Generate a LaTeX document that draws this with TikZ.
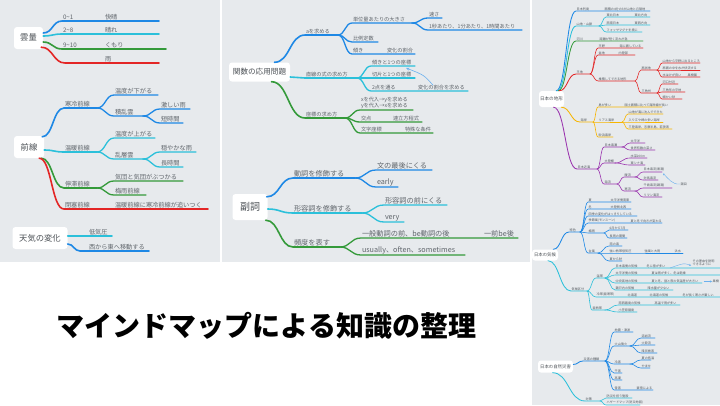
\documentclass[tikz,border=0pt]{standalone}
\usepackage{fontspec}
\setmainfont{Noto Sans CJK JP}
\usetikzlibrary{calc,arrows.meta}
\definecolor{bg}{HTML}{E7EAED}
\definecolor{mblue}{HTML}{1E88E5}
\definecolor{mcyan}{HTML}{2BC0DA}
\definecolor{mgreen}{HTML}{349A3A}
\definecolor{mred}{HTML}{E32626}
\definecolor{morange}{HTML}{F7B500}
\definecolor{mpurple}{HTML}{9A32AE}
\definecolor{txt}{HTML}{5F656B}
\definecolor{rtxt}{HTML}{50565C}
\definecolor{arr}{HTML}{6AB0EE}
% #1 label xshift, #2 style, #3 start, #4 knee, #5 end, #6 name, #7 text
\newcommand\mmb[7][0]{%
  \coordinate (#6k) at #4;
  \coordinate (#6) at #5;
  \coordinate (#6m) at ($(#3)!0.5!(#6k)$);
  \draw[#2] (#3) .. controls (#6m |- #3) and (#6m |- #6k) .. (#6k) -- (#6);
  \node[lbl,xshift=#1pt] (#6t) at (#6k) {#7};}
\begin{document}
\begin{tikzpicture}[x=1pt,y=-1pt,
  root/.style={fill=white,rounded corners=3pt,inner sep=0pt,text=txt!80!black,align=center},
  lbl/.style={inner sep=0.8pt,text=txt,anchor=south west,align=left},
  b1/.style={line width=1.6pt,line cap=round},
  b2/.style={line width=1.3pt,line cap=round},
  r1/.style={line width=0.85pt,line cap=round},
  r2/.style={line width=0.6pt,line cap=round},
  rel/.style={draw=arr,line width=0.6pt,-{Stealth[length=3.5pt,width=3pt]}},
  rrel/.style={draw=arr,line width=0.4pt,-{Stealth[length=2pt,width=2pt]}}]
\useasboundingbox (0,0) rectangle (720,405);
\fill[white] (0,0) rectangle (720,405);
\fill[bg] (0,0) rectangle (220,262);
\fill[bg] (222,0) rectangle (530,262);
\fill[bg] (532,0) rectangle (720,405);

% ===== LEFT PANEL =====
\begin{scope}[lbl/.append style={font=\fontsize{6.2}{7.4}\selectfont}]
\node[root,minimum width=29,minimum height=22,font=\fontsize{8.3}{10}\selectfont] (unryo) at (28.5,38) {雲量};
\coordinate (u1) at ($(unryo.east)+(0,-5)$);
\coordinate (u2) at ($(unryo.east)+(0,-2)$);
\coordinate (u3) at ($(unryo.east)+(0,4)$);
\coordinate (u4) at ($(unryo.south east)+(-2,-2)$);
\mmb{b1,mblue}{u1}{(62,21)}{(159,21)}{ua}{0\textasciitilde1}
\node[lbl] (uau) at (104,21) {快晴};
\mmb{b1,mcyan}{u2}{(62,34)}{(159,34)}{ub}{2\textasciitilde8}
\node[lbl] (ubu) at (104,34) {晴れ};
\mmb{b1,mgreen}{u3}{(62,49)}{(166,49)}{uc}{9\textasciitilde10}
\node[lbl] (ucu) at (104,49) {くもり};
\mmb{b1,mred}{u4}{(65,63)}{(159,63)}{ud}{}
\node[lbl] (udu) at (104,63) {雨};

\node[root,minimum width=30,minimum height=22,font=\fontsize{8.3}{10}\selectfont] (zensen) at (29,147) {前線};
\coordinate (z1) at ($(zensen.north east)+(-2,1)$);
\coordinate (z2) at ($(zensen.east)+(0,3)$);
\coordinate (z3) at ($(zensen.south east)+(-3,0)$);
\coordinate (z4) at ($(zensen.south east)+(-5,0)$);
\mmb{b1,mblue}{z1}{(64,108)}{(97,108)}{za}{寒冷前線}
\mmb{b2,mblue}{za}{(114,95)}{(158,95)}{zaa}{温度が下がる}
\mmb{b2,mblue}{za}{(114,116)}{(143,116)}{zab}{積乱雲}
\mmb{b2,mblue}{zab}{(160,109)}{(190,109)}{zaba}{激しい雨}
\mmb{b2,mblue}{zab}{(160,123)}{(183,123)}{zabb}{短時間}
\mmb{b1,mcyan}{z2}{(64,152)}{(97,152)}{zb}{温暖前線}
\mmb{b2,mcyan}{zb}{(114,138)}{(155,138)}{zba}{温度が上がる}
\mmb{b2,mcyan}{zb}{(114,159)}{(143,159)}{zbb}{乱層雲}
\mmb{b2,mcyan}{zbb}{(160,152)}{(196,152)}{zbba}{穏やかな雨}
\mmb{b2,mcyan}{zbb}{(160,167)}{(183,167)}{zbbb}{長時間}
\mmb{b1,mgreen}{z3}{(64,188)}{(97,188)}{zc}{停滞前線}
\mmb{b2,mgreen}{zc}{(114,181)}{(183,181)}{zca}{気団と気団がぶつかる}
\mmb{b2,mgreen}{zc}{(114,195)}{(146,195)}{zcb}{梅雨前線}
\mmb{b1,mred}{z4}{(64,209)}{(208,209)}{zd}{閉塞前線}
\node[lbl] (zdu) at (114,209) {温暖前線に寒冷前線が追いつく};

\node[root,minimum width=55,minimum height=22,font=\fontsize{8.3}{10}\selectfont] (tenki) at (40,238) {天気の変化};
\coordinate (t1) at ($(tenki.east)+(0,-2)$);
\coordinate (t2) at ($(tenki.east)+(0,6)$);
\mmb[8]{b1,mcyan}{t1}{(80,236)}{(112,236)}{ta}{低気圧}
\mmb[8]{b1,mblue}{t2}{(80,251)}{(149,251)}{tb}{西から東へ移動する}
\end{scope}

% ===== MIDDLE: kansu =====
\begin{scope}[lbl/.append style={font=\fontsize{5.2}{6.6}\selectfont}]
\node[root,minimum width=61,minimum height=19,font=\fontsize{7.6}{9}\selectfont] (kansu) at (259.5,72) {関数の応用問題};
\coordinate (k1) at ($(kansu.north)+(15,0)$);
\coordinate (k2) at ($(kansu.east)+(0,5)$);
\coordinate (k3) at ($(kansu.south)+(12,0)$);
\mmb{b1,mblue}{k1}{(305,35)}{(338,35)}{ka}{aを求める}
\mmb{b2,mblue}{ka}{(352,23)}{(412,23)}{kaa}{単位量あたりの大きさ}
\mmb{b2,mblue}{kaa}{(428,18)}{(442,18)}{kaaa}{速さ}
\mmb{b2,mblue}{kaa}{(428,30)}{(522,30)}{kaab}{1秒あたり、1分あたり、1時間あたり}
\mmb{b2,mblue}{ka}{(352,42)}{(378,42)}{kab}{比例定数}
\mmb{b2,mblue}{ka}{(352,54)}{(415,54)}{kac}{傾き}
\node[lbl] (kacu) at (386,54) {変化の割合};
\mmb{b1,mcyan}{k2}{(305,78)}{(357,78)}{kb}{直線の式の求め方}
\mmb{b2,mcyan}{kb}{(371,66)}{(415,66)}{kba}{傾きと1つの座標}
\mmb{b2,mcyan}{kb}{(371,78)}{(415,78)}{kbb}{切片と1つの座標}
\mmb{b2,mcyan}{kb}{(371,91)}{(468,91)}{kbc}{2点を通る}
\node[lbl] (kbcu) at (417,91) {変化の割合を求める};
\draw[rel] ($(kbcu.north west)+(16,1)$) .. controls (424,75) .. ($(kba)+(-9,2)$);
\mmb{b1,mgreen}{k3}{(305,118)}{(345,118)}{kc}{座標の求め方}
\mmb{b2,mgreen}{kc}{(360,110)}{(413,110)}{kca}{xを代入→yを求める\\yを代入→xを求める}
\mmb{b2,mgreen}{kc}{(360,122)}{(422,122)}{kcb}{交点}
\node[lbl] (kcbu) at (392,122) {連立方程式};
\mmb{b2,mgreen}{kc}{(360,133)}{(433,133)}{kcc}{文字座標}
\node[lbl] (kccu) at (404,133) {特殊な条件};
\end{scope}

% ===== MIDDLE: fukushi =====
\begin{scope}[lbl/.append style={font=\fontsize{7.2}{8.6}\selectfont}]
\node[root,minimum width=35,minimum height=26,font=\fontsize{10}{12}\selectfont] (fukushi) at (250,207) {副詞};
\coordinate (f1) at ($(fukushi.north east)+(-1,3)$);
\coordinate (f2) at ($(fukushi.east)+(0,2)$);
\coordinate (f3) at ($(fukushi.south east)+(-2,0)$);
\mmb{b1,mblue}{f1}{(293,178)}{(355,178)}{fa}{動詞を修飾する}
\mmb{b2,mblue}{fa}{(376,170)}{(432,170)}{faa}{文の最後にくる}
\mmb{b2,mblue}{fa}{(376,187)}{(398,187)}{fab}{early}
\mmb{b1,mcyan}{f2}{(293,213)}{(362,213)}{fb}{形容詞を修飾する}
\mmb{b2,mcyan}{fb}{(384,205)}{(447,205)}{fba}{形容詞の前にくる}
\mmb{b2,mcyan}{fb}{(384,222)}{(404,222)}{fbb}{very}
\mmb{b1,mgreen}{f3}{(293,247)}{(340,247)}{fc}{頻度を表す}
\mmb{b2,mgreen}{fc}{(361,238)}{(518,238)}{fca}{一般動詞の前、be動詞の後}
\node[lbl] (fcau) at (483,238) {一前be後};
\mmb{b2,mgreen}{fc}{(361,255)}{(465,255)}{fcb}{usually、often、sometimes}
\end{scope}

% ===== TITLE =====
\node[font=\fontsize{28}{32}\selectfont\bfseries,text=black,inner sep=0pt] (title) at (266.5,326) {マインドマップによる知識の整理};

% ===== RIGHT COLUMN =====
\begin{scope}[lbl/.append style={font=\fontsize{3.1}{3.6}\selectfont,text=rtxt,inner sep=0.5pt}]
\clip (532,0) rectangle (720,405);
\node[root,minimum width=25,minimum height=16,font=\fontsize{4.6}{5}\selectfont] (chikei) at (551.5,99) {日本の地形};
\coordinate (c1) at ($(chikei.north east)+(-8,0)$);
\coordinate (c2) at ($(chikei.north east)+(-7,0)$);
\coordinate (c3) at ($(chikei.north east)+(-6,0)$);
\coordinate (c4) at ($(chikei.north east)+(-5,0)$);
\coordinate (c5) at ($(chikei.south east)+(-3,0)$);
\coordinate (c6) at ($(chikei.south)+(2,0)$);
\mmb{r1,mblue}{c1}{(576,11)}{(650,11)}{ca}{日本列島}
\node[lbl] (cau) at (604,11) {面積の4分の3が山地と丘陵地};
\mmb{r1,mcyan}{c2}{(576,26)}{(599,26)}{cb}{山地・山脈}
\mmb{r2,mcyan}{cb}{(606,17)}{(650,17)}{cba}{東北日本}
\node[lbl] (cbau) at (634,17) {東北方向};
\mmb{r2,mcyan}{cb}{(606,25)}{(650,25)}{cbb}{西南日本}
\node[lbl] (cbbu) at (634,25) {東西方向};
\mmb{r2,mcyan}{cb}{(606,32)}{(642,32)}{cbc}{フォッサマグナを境に}
\mmb{r1,mgreen}{c3}{(576,41)}{(643,41)}{cc}{河川}
\node[lbl] (ccu) at (599,41) {距離が短く流れが急};
\mmb{r1,mred}{c4}{(576,74)}{(590,74)}{cd}{平地}
\mmb{r2,mred}{cd}{(598,48)}{(643,48)}{cda}{平野}
\node[lbl] (cdau) at (619,48) {海に面している};
\mmb{r2,mred}{cd}{(598,55)}{(635,55)}{cdb}{盆地}
\node[lbl] (cdbu) at (618,55) {内陸部};
\mmb{r2,mred}{cd}{(598,81)}{(635,81)}{cdc}{堆積してできる地形}
\mmb{r2,mred}{cdc}{(641,70)}{(657,70)}{cdca}{扇状地}
\mmb{r2,mred}{cdca}{(662,63)}{(700,63)}{cdcaa}{山地から平野に出るところ}
\mmb{r2,mred}{cdca}{(662,70)}{(700,70)}{cdcab}{扇面の中を水が伏流する}
\mmb{r2,mred}{cdca}{(662,77)}{(700,77)}{cdcac}{水はけが良い}
\node[lbl] (cdcacu) at (687,77) {果樹園};
\mmb{r2,mred}{cdc}{(641,93)}{(657,93)}{cdcb}{三角州}
\mmb{r2,mred}{cdcb}{(662,84)}{(678,84)}{cdcba}{河口付近}
\mmb{r2,mred}{cdcb}{(662,92)}{(685,92)}{cdcbb}{三角形の平地}
\mmb{r2,mred}{cdcb}{(662,99)}{(682,99)}{cdcbc}{細かい砂}
\mmb{r1,morange}{c5}{(580,122)}{(593,122)}{ce}{海岸}
\mmb{r2,morange}{ce}{(598,107)}{(662,107)}{cea}{島が多い}
\node[lbl] (ceau) at (624,107) {国土面積に比べて海岸線が長い};
\mmb{r2,morange}{ce}{(598,122)}{(622,122)}{ceb}{リアス海岸}
\mmb{r2,morange}{ceb}{(628,114)}{(663,114)}{ceba}{山地が海に沈んでできた}
\mmb{r2,morange}{ceb}{(628,122)}{(663,122)}{cebb}{入り江や岬の多い海岸}
\mmb{r2,morange}{ceb}{(628,129)}{(672,129)}{cebc}{三陸海岸、志摩半島、若狭湾}
\mmb{r2,morange}{ce}{(598,137)}{(613,137)}{cec}{砂浜海岸}
\mmb{r1,mpurple}{c6}{(577,169)}{(597,169)}{cf}{日本近海}
\mmb{r2,mpurple}{cf}{(604,147)}{(622,147)}{cfa}{日本海溝}
\mmb{r2,mpurple}{cfa}{(630,143)}{(645,143)}{cfaa}{太平洋}
\mmb{r2,mpurple}{cfa}{(630,150)}{(655,150)}{cfab}{世界有数の深さ}
\mmb{r2,mpurple}{cf}{(604,163)}{(615,163)}{cfb}{大陸棚}
\mmb{r2,mpurple}{cfb}{(630,158)}{(647,158)}{cfba}{水深200m}
\mmb{r2,mpurple}{cfb}{(630,165)}{(645,165)}{cfbb}{東シナ海}
\mmb{r2,mpurple}{cf}{(604,184)}{(617,184)}{cfc}{海流}
\mmb{r2,mpurple}{cfc}{(624,177)}{(635,177)}{cfca}{暖流}
\mmb{r2,mpurple}{cfca}{(643,172)}{(662,172)}{cfcaa}{日本海流(黒潮)}
\mmb{r2,mpurple}{cfca}{(643,180)}{(658,180)}{cfcab}{対馬海流}
\mmb{r2,mpurple}{cfc}{(624,191)}{(635,191)}{cfcb}{寒流}
\mmb{r2,mpurple}{cfcb}{(643,188)}{(672,188)}{cfcba}{千島海流(親潮)}
\mmb{r2,mpurple}{cfcb}{(643,197)}{(662,197)}{cfcbb}{リマン海流}
\node[lbl,anchor=west] (shiome) at (680,184) {潮目};
\draw[rrel] (shiome.west) .. controls (672,185) and (668,178) .. ($(cfcaa)+(1,1.5)$);

\node[root,minimum width=26,minimum height=11,font=\fontsize{4.4}{5}\selectfont] (kikou) at (545,255) {日本の気候};
\coordinate (g1) at ($(kikou.north east)+(-5,0)$);
\coordinate (g2) at ($(kikou.south)+(3,0)$);
\mmb{r1,mblue}{g1}{(569,232)}{(580,232)}{ga}{特色}
\mmb{r2,mblue}{ga}{(588,202)}{(631,202)}{gaa}{夏}
\node[lbl] (gaau) at (610,202) {太平洋側南東};
\mmb{r2,mblue}{ga}{(588,209)}{(631,209)}{gab}{冬}
\node[lbl] (gabu) at (610,209) {大陸側北西};
\mmb{r2,mblue}{ga}{(588,216)}{(637,216)}{gac}{四季の変化がはっきりしている}
\mmb{r2,mblue}{ga}{(588,223)}{(662,223)}{gad}{季節風(モンスーン)}
\node[lbl] (gadu) at (630,223) {夏と冬で向きが変わる};
\mmb{r2,mblue}{ga}{(588,233)}{(604,233)}{gae}{梅雨}
\mmb{r2,mblue}{gae}{(609,230)}{(628,230)}{gaea}{6月から7月}
\mmb{r2,mblue}{gae}{(609,238)}{(627,238)}{gaeb}{長雨の期間}
\mmb{r2,mblue}{ga}{(588,253)}{(598,253)}{gaf}{台風}
\mmb{r2,mblue}{gaf}{(609,246)}{(622,246)}{gafa}{南の海}
\mmb{r2,mblue}{gaf}{(609,253)}{(683,253)}{gafb}{強い熱帯低気圧}
\node[lbl] (gafbu) at (644,253) {強風と大雨};
\node[lbl] (gafbv) at (674,253) {洪水};
\mmb{r2,mblue}{gaf}{(609,261)}{(622,261)}{gafc}{夏から秋}
\mmb{r1,mcyan}{g2}{(571,291)}{(587,291)}{gb}{気候区分}
\mmb{r2,mcyan}{gb}{(596,278)}{(605,278)}{gba}{温帯}
\mmb{r2,mcyan}{gba}{(615,268)}{(720,268)}{gbaa}{日本海側の気候}
\node[lbl] (gbaau) at (646,268) {冬に雪が多い};
\node[lbl] (gbaav) at (692,266.5) {その理由を説明\\できるように};
\draw[rrel] ($(gbaau.south east)+(4,0)$) .. controls (684,263) .. ($(gbaav.south west)+(-1,-1)$);
\mmb{r2,mcyan}{gba}{(615,275)}{(720,275)}{gbab}{太平洋側の気候}
\node[lbl] (gbabu) at (651,275) {夏は雨が多く、冬は乾燥};
\mmb{r2,mcyan}{gba}{(615,283)}{(702,283)}{gbac}{中央高地の気候}
\node[lbl] (gbacu) at (651,283) {夏と冬、昼と夜の気温差が大きい};
\node[lbl,anchor=west] (gbacv) at (712,281.5) {果樹};
\draw[rrel] ($(gbac)+(1.5,-1.5)$) -- (gbacv.west);
\mmb{r2,mcyan}{gba}{(615,290)}{(673,290)}{gbad}{瀬戸内の気候}
\node[lbl] (gbadu) at (647,290) {降水量が少ない};
\mmb{r2,mcyan}{gb}{(596,297)}{(720,297)}{gbb}{冷帯(亜寒帯)}
\node[lbl] (gbbu) at (627,297) {北海道};
\node[lbl] (gbbv) at (649,297) {北海道の気候};
\node[lbl] (gbbw) at (682,297) {冬が長く寒さが厳しい};
\mmb{r2,mcyan}{gb}{(592,310)}{(605,310)}{gbc}{亜熱帯}
\mmb{r2,mcyan}{gbc}{(618,305)}{(680,305)}{gbca}{南西諸島の気候}
\node[lbl] (gbcau) at (654,305) {高温で雨が多い};
\mmb{r2,mcyan}{gbc}{(618,312)}{(637,312)}{gbcb}{小笠原諸島}

\node[root,minimum width=35,minimum height=12,font=\fontsize{4.4}{5}\selectfont] (saigai) at (555.5,366.5) {日本の自然災害};
\coordinate (s1) at ($(saigai.east)+(0,-2)$);
\coordinate (s2) at ($(saigai.south)+(-3,0)$);
\mmb{r1,mblue}{s1}{(583,361)}{(605,361)}{sa}{災害の種類}
\mmb{r2,mblue}{sa}{(614,332)}{(633,332)}{saa}{地震・津波}
\mmb{r2,mblue}{sa}{(614,346)}{(630,346)}{sab}{火山噴火}
\mmb{r2,mblue}{sab}{(641,338)}{(655,338)}{saba}{溶岩流}
\mmb{r2,mblue}{sab}{(641,345)}{(655,345)}{sabb}{火砕流}
\mmb{r2,mblue}{sab}{(641,353)}{(657,353)}{sabc}{降灰被害}
\mmb{r2,mblue}{sa}{(614,364)}{(630,364)}{sac}{冷害}
\mmb{r2,mblue}{sac}{(641,360)}{(651,360)}{saca}{夏の低温}
\mmb{r2,mblue}{sac}{(641,368)}{(650,368)}{sacb}{やませ}
\mmb{r2,mblue}{sa}{(614,373)}{(622,373)}{sad}{干害}
\mmb{r2,mblue}{sa}{(614,380)}{(622,380)}{sae}{高潮}
\mmb{r2,mblue}{sa}{(614,390)}{(653,390)}{saf}{雪害}
\node[lbl] (safu) at (636,390) {豪雪による};
\mmb{r1,mcyan}{s2}{(585,401)}{(600,401)}{sb}{対策}
\mmb{r2,mcyan}{sb}{(606,398)}{(632,398)}{sba}{防災を担う施設}
\mmb{r2,mcyan}{sb}{(606,405)}{(640,405)}{sbb}{ハザードマップ(防災地図)}
\end{scope}
\end{tikzpicture}
\end{document}
